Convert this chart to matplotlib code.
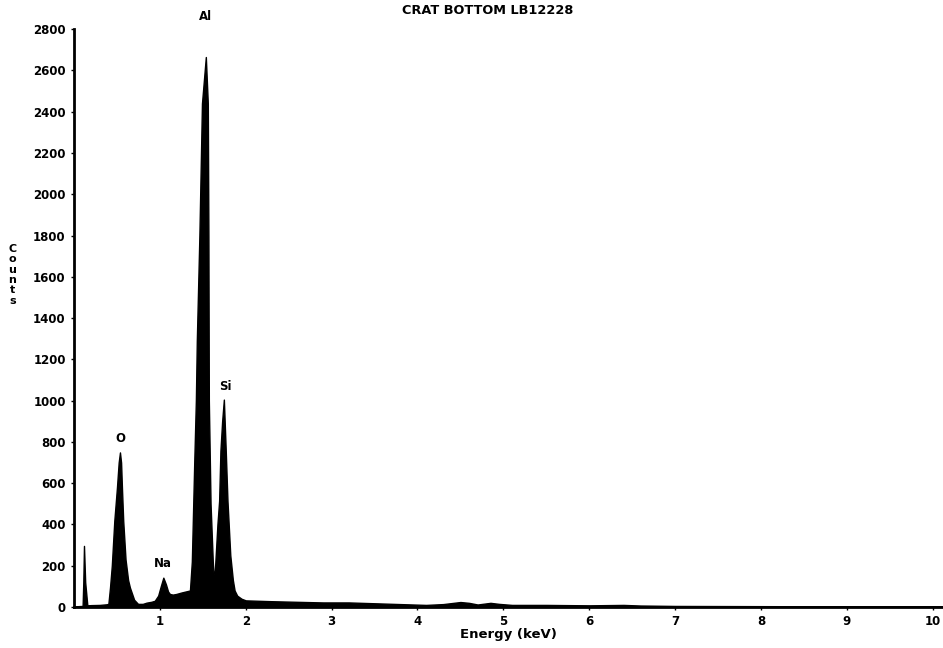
import matplotlib
matplotlib.use('Agg')
import matplotlib.pyplot as plt

# EDS spectrum (energy in keV, counts)
energy = [0.00, 0.05, 0.10, 0.108, 0.116, 0.13, 0.155, 0.20, 0.30, 0.38, 0.40,
          0.419, 0.44, 0.469, 0.50, 0.52, 0.535, 0.548, 0.558, 0.573, 0.60,
          0.63, 0.651, 0.70, 0.745, 0.80, 0.845, 0.90, 0.94, 0.98, 1.01, 1.04,
          1.07, 1.095, 1.116, 1.15, 1.19, 1.25, 1.31, 1.35, 1.372, 1.40, 1.419,
          1.43, 1.46, 1.49, 1.535, 1.558, 1.565, 1.57, 1.59, 1.616, 1.625, 1.64,
          1.67, 1.69, 1.705, 1.725, 1.745, 1.767, 1.787, 1.82, 1.85, 1.87, 1.90,
          1.95, 2.00, 2.30, 2.60, 2.90, 3.20, 3.50, 3.80, 4.10, 4.30, 4.50, 4.60,
          4.70, 4.85, 4.95, 5.10, 5.50, 6.00, 6.40, 6.60, 7.00, 8.00, 9.00,
          10.00, 10.12]
counts = [0, 4, 5, 120, 296, 120, 8, 9, 10, 13, 15,
          94, 200, 417, 579, 700, 749, 700, 579, 417, 230,
          130, 94, 35, 15, 15, 21, 25, 30, 55, 100, 142,
          110, 75, 63, 60, 63, 70, 76, 80, 220, 700, 1000,
          1290, 1800, 2440, 2665, 2440, 1800, 1000, 500, 220, 160, 175,
          400, 515, 757, 900, 1005, 757, 515, 250, 130, 80, 55,
          40, 32, 28, 25, 22, 22, 18, 14, 10, 14, 24, 20,
          12, 20, 15, 10, 10, 8, 10, 7, 5, 4, 3,
          3, 3]

peak_names = ['O', 'Na', 'Al', 'Si']
peak_x = [0.535, 1.04, 1.53, 1.76]
peak_label_y = [815, 209, 2860, 1068]

y_ticks = list(range(0, 2801, 200))
x_ticks = list(range(1, 11))

fig = plt.figure(figsize=(9.43, 6.48), dpi=100)
ax = fig.add_axes([0.0785, 0.0633, 0.9215, 0.8917])

ax.fill_between(energy, counts, 0, color='black', linewidth=1.0, edgecolor='black')

ax.set_xlim(0, 10.12)
ax.set_ylim(0, 2800)

for side in ['top', 'right']:
    ax.spines[side].set_visible(False)
ax.spines['left'].set_linewidth(2.0)
ax.spines['bottom'].set_linewidth(2.0)

ax.set_yticks(y_ticks)
ax.set_yticklabels([str(v) for v in y_ticks], fontsize=8.5, fontweight='bold')
ax.set_yticks([0, 1000, 2000], minor=True)
ax.set_xticks(x_ticks)
ax.set_xticklabels([str(v) for v in x_ticks], fontsize=8.5, fontweight='bold')
ax.tick_params(axis='y', which='major', length=2, width=1, pad=4)
ax.tick_params(axis='y', which='minor', length=7, width=1.5)
ax.tick_params(axis='x', which='major', length=2, width=1, pad=4)

for name, px, py in zip(peak_names, peak_x, peak_label_y):
    ax.text(px, py, name, ha='center', va='center', fontsize=8.5, fontweight='bold',
            clip_on=False)

fig.text(0.517, 0.984, 'CRAT BOTTOM LB12228', ha='center', va='center',
         fontsize=9.3, fontweight='bold')
ax.set_xlabel('Energy (keV)', fontsize=9.5, fontweight='bold', labelpad=0)
fig.text(0.013, 0.576, 'C\no\nu\nn\nt\ns', ha='center', va='center',
         fontsize=8, fontweight='bold', linespacing=1.05)

fig.savefig('out.png', dpi=100)
plt.close(fig)
